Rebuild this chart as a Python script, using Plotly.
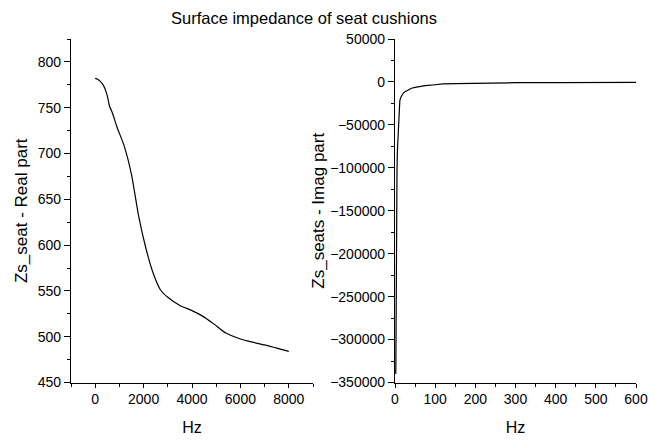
import plotly.graph_objects as go

# Real part of the seat-cushion surface impedance
freq_real = [0, 100, 200, 300, 400, 500, 600, 700, 900, 1200, 1500, 1800, 2100,
             2400, 2700, 3000, 3500, 4000, 4400, 4900, 5400, 6000, 6500, 7000,
             7500, 8000]
z_real = [782, 781, 779, 776, 771, 763, 751, 745, 729, 708, 677, 631, 596,
          569, 551, 543, 534, 528.5, 523, 514, 504, 497.5, 494, 491, 487.5, 484]

# Imaginary part (low-frequency range)
freq_imag = [2, 3, 4, 5, 6, 8, 10, 12, 14, 17, 20, 25, 30, 41, 50, 75, 100,
             120, 150, 200, 300, 400, 500, 600]
z_imag = [-340000, -200000, -140000, -102000, -80000, -55000, -33000, -22000,
          -18500, -16000, -13500, -11300, -9800, -7400, -6300, -4300, -3300,
          -2300, -1900, -1400, -900, -700, -550, -450]

W, H = 649, 441
FONT = "Liberation Sans, Arial, sans-serif"
TICK_FONT = dict(family=FONT, size=14, color="black")
YTITLE_FONT = dict(family=FONT, size=17, color="black")
XTITLE_FONT = dict(family=FONT, size=16, color="black")

fig = go.Figure()
fig.add_trace(go.Scatter(x=freq_real, y=z_real, mode="lines",
                         line=dict(color="black", width=1.2, shape="spline",
                                   smoothing=0.6),
                         xaxis="x", yaxis="y", showlegend=False))
fig.add_trace(go.Scatter(x=freq_imag, y=z_imag, mode="lines",
                         line=dict(color="black", width=1.2),
                         xaxis="x2", yaxis="y2", showlegend=False))

y_dom = [1 - 382.5 / H, 1 - 39 / H]

base = dict(
    showgrid=False, zeroline=False, showline=True, linecolor="black",
    linewidth=1.3, ticks="outside", tickwidth=1.2, tickcolor="black",
    tickfont=TICK_FONT, automargin=False,
)


def minor(step, start):
    return dict(dtick=step, tick0=start, ticks="outside", ticklen=3,
                tickcolor="black", tickwidth=1.2)


fig.update_layout(
    width=W, height=H,
    margin=dict(l=0, r=0, t=0, b=0),
    paper_bgcolor="white", plot_bgcolor="white",
    font=dict(family=FONT, color="black"),
    title=dict(text="Surface impedance of seat cushions",
               x=304 / W, xanchor="center", y=1 - 18 / H, yanchor="middle",
               font=dict(family=FONT, size=16.5, color="black")),
    xaxis=dict(domain=[71 / W, 313 / W], range=[-1000, 9000],
               tick0=0, dtick=2000, anchor="y", ticklen=4,
               minor=minor(1000, 0),
               title=dict(text="Hz", standoff=15, font=XTITLE_FONT),
               **base),
    yaxis=dict(domain=y_dom, range=[450, 825], tick0=450, dtick=50,
               anchor="x", ticklen=6, minor=minor(25, 450),
               title=dict(text="Zs_seat - Real part", standoff=5,
                          font=YTITLE_FONT),
               **base),
    xaxis2=dict(domain=[395 / W, 636 / W], range=[0, 600],
                tick0=0, dtick=100, anchor="y2", ticklen=4,
                minor=minor(50, 0),
                title=dict(text="Hz", standoff=15, font=XTITLE_FONT),
                **base),
    yaxis2=dict(domain=y_dom, range=[-350000, 50000], tick0=0, dtick=50000,
                anchor="x2", tickformat="d", ticklen=6,
                minor=minor(25000, 0),
                title=dict(text="Zs_seats - Imag part", standoff=1,
                           font=YTITLE_FONT),
                **base),
)

fig.write_html("out.html")
